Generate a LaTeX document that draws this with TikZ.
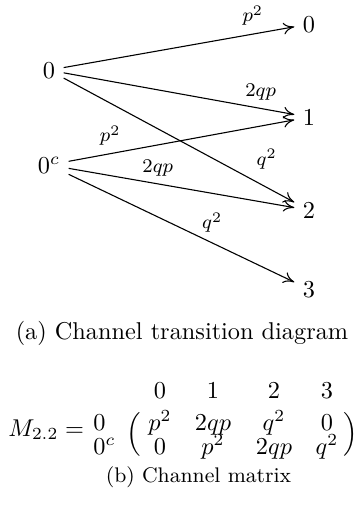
\documentclass[tikz,border=0pt]{standalone}
\usetikzlibrary{arrows.meta}
\begin{document}
\begin{tikzpicture}[x=0.41152pt,y=-0.41152pt,
  vtx/.style={inner sep=3.33pt},
  arr/.style={-{To[length=4.5pt,width=4.8pt]},line width=0.45pt},
  elab/.style={font=\footnotesize,inner sep=0pt},
  captxt/.style={anchor=base,inner sep=0pt},
  ent/.style={anchor=base,inner sep=0pt}]
\useasboundingbox (0,0) rectangle (362,514);
% diagram nodes
\node[vtx,anchor=base] (a0) at (49,78) {$0$};
\node[vtx,anchor=base] (a0c) at (49,173) {$0^c$};
\node[vtx,anchor=base] (b0) at (309,32) {$0$};
\node[vtx,anchor=base] (b1) at (309,125) {$1$};
\node[vtx,anchor=base] (b2) at (309,218) {$2$};
\node[vtx,anchor=base] (b3) at (309,297) {$3$};
% connectors
\draw[arr] (a0) -- node[elab,pos=0.82,yshift=7.6pt] {$p^2$} (b0);
\draw[arr] (a0) -- node[elab,pos=0.854,yshift=6.6pt] {$2qp$} (b1);
\draw[arr] (a0) -- node[elab,pos=0.88,yshift=11.5pt] {$q^2$} (b2);
\draw[arr] (a0c) -- node[elab,pos=0.184,yshift=7.4pt] {$p^2$} (b1);
\draw[arr] (a0c) -- node[elab,pos=0.395,yshift=6.6pt] {$2qp$} (b2);
\draw[arr] (a0c) -- node[elab,pos=0.636,yshift=8.3pt] {$q^2$} (b3);
% caption (a)
\node[captxt] (capa) at (182,339) {(a) Channel transition diagram};
% matrix
\node[anchor=base west,inner sep=0pt] (mlhs) at (8,436) {$M_{2.2} =$};
\node[anchor=base west,inner sep=0pt] (r1) at (93,430) {$0$};
\node[anchor=base west,inner sep=0pt] (r2) at (93,454) {$0^c$};
\node[ent] (h1) at (160,398) {$0$};
\node[ent] (h2) at (213,398) {$1$};
\node[ent] (h3) at (274,398) {$2$};
\node[ent] (h4) at (327,398) {$3$};
\node[ent] (m11) at (160,430) {$p^2$};
\node[ent] (m12) at (213,430) {$2qp$};
\node[ent] (m13) at (274,430) {$q^2$};
\node[ent] (m14) at (327,430) {$0$};
\node[ent] (m21) at (160,454) {$0$};
\node[ent] (m22) at (213,454) {$p^2$};
\node[ent] (m23) at (274,454) {$2qp$};
\node[ent] (m24) at (327,454) {$q^2$};
\node[inner sep=0pt] (lp) at (134,434) {$\Bigl($};
\node[inner sep=0pt] (rp) at (351,434) {$\Bigr)$};
% caption (b)
\node[captxt,font=\fontsize{8.7}{10}\selectfont] (capb) at (198.5,482) {(b) Channel matrix};
\end{tikzpicture}
\end{document}
